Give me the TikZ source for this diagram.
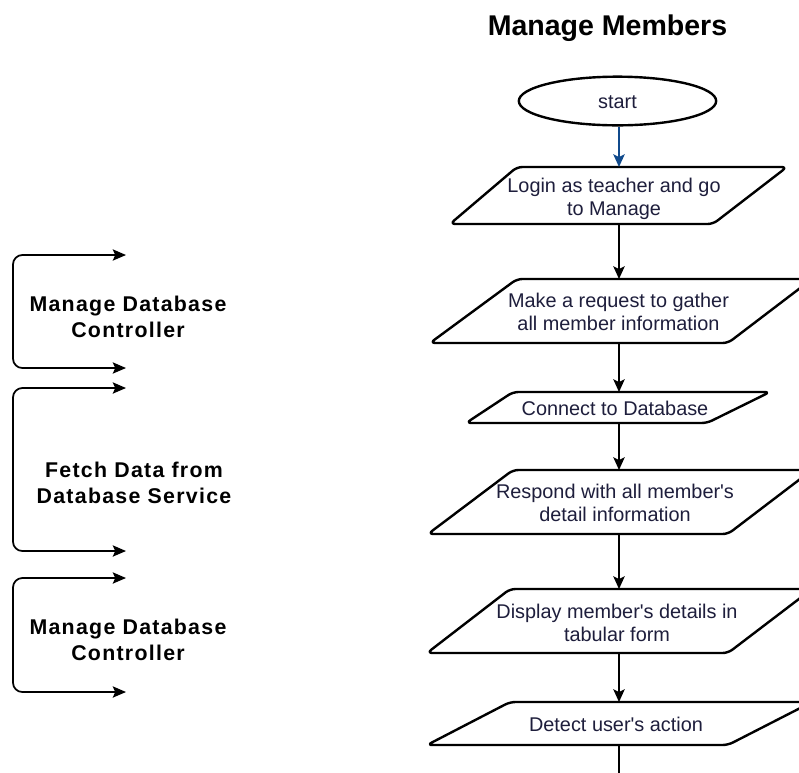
\documentclass[tikz,border=0pt]{standalone}
\usepackage{fontspec}
\setmainfont{Liberation Sans}
\usetikzlibrary{arrows.meta,shapes.geometric}

\definecolor{inkblue}{RGB}{16,74,140}
\definecolor{steptxt}{RGB}{30,30,60}

% Parallelogram step: name, top y, bottom y, top-left x, top-right x, bottom-right x, bottom-left x
\newcommand\parabox[7]{%
  \draw[stepshape] (#4,#2) -- (#5,#2) -- (#6,#3) -- (#7,#3) -- cycle;
  \coordinate (#1-n) at (619,#2);
  \coordinate (#1-s) at (619,#3);
}

\begin{document}
\begin{tikzpicture}[x=0.75pt,y=-0.75pt,
  stepshape/.style={draw=black, line width=1.8pt, rounded corners=4pt, fill=white, line join=round},
  arrowtip/.style={-{Stealth[length=9.5pt,width=8.5pt,inset=2pt]}},
  flow/.style={draw=black, line width=1.4pt, arrowtip},
  bracket/.style={draw=black, line width=1.3pt, rounded corners=7pt,
    {Stealth[length=10pt,width=8.5pt,inset=2pt]}-{Stealth[length=10pt,width=8.5pt,inset=2pt]}},
  steptext/.style={font=\fontsize{14.9}{17.25}\selectfont, text=steptxt, align=center, inner sep=0pt},
  sidelabel/.style={font=\fontsize{16}{19.5}\selectfont\bfseries\addfontfeature{LetterSpace=6},
    text=black, align=center, inner sep=0pt},
  titletext/.style={font=\fontsize{21.4}{25}\selectfont\bfseries, text=black, inner sep=0pt},
]
\useasboundingbox (0,0) rectangle (799,772);
\clip (0,0) rectangle (799,772);
\fill[white] (0,0) rectangle (799,772);

% Title
\node[titletext, anchor=base] (title) at (607.5,35) {Manage Members};

% Start terminal
\node[draw=black, line width=1.8pt, ellipse, minimum width=148pt, minimum height=36.5pt,
  steptext, text depth=0pt, text height=11pt] (start) at (617.5,101) {start};

% Process steps
\parabox{login}{167}{224}{517}{787}{713}{450}
\node[steptext] (login) at (614,199) {Login as teacher and go\\to Manage};

\parabox{request}{279}{343}{517}{812}{728}{430}
\node[steptext] (request) at (618.5,311.5) {Make a request to gather\\all member information};

\parabox{connect}{392}{423}{513}{770}{707}{466}
\node[steptext] (connect) at (615,408.5) {Connect to Database};

\parabox{respond}{470}{534}{513}{812}{728}{428}
\node[steptext] (respond) at (615,503) {Respond with all member\textquotesingle s\\detail information};

\parabox{display}{589}{653}{510}{812}{728}{427}
\node[steptext] (display) at (617,623) {Display member\textquotesingle s details in\\tabular form};

\parabox{detect}{702}{745}{510}{812}{728}{427}
\node[steptext] (detect) at (616,724.5) {Detect user\textquotesingle s action};

\coordinate (more) at (619,780);

% Connectors
\draw[flow, draw=inkblue] (start.south -| login-n) -- (login-n);
\draw[flow] (login-s) -- (request-n);
\draw[flow] (request-s) -- (connect-n);
\draw[flow] (connect-s) -- (respond-n);
\draw[flow] (respond-s) -- (display-n);
\draw[flow] (display-s) -- (detect-n);
\draw[draw=black, line width=1.4pt] (detect-s) -- (more);

% Layer brackets on the left
\coordinate (b1a) at (126,255);
\coordinate (b1b) at (126,368);
\coordinate (b2a) at (126,388);
\coordinate (b2b) at (126,551);
\coordinate (b3a) at (126,578);
\coordinate (b3b) at (126,692);
\draw[bracket] (b1a) -- (13,255) -- (13,368) -- (b1b);
\draw[bracket] (b2a) -- (13,388) -- (13,551) -- (b2b);
\draw[bracket] (b3a) -- (13,578) -- (13,692) -- (b3b);

\node[sidelabel] (ctrl1) at (128,316.5) {Manage Database\\Controller};
\node[sidelabel] (fetch) at (134,482.5) {Fetch Data from\\Database Service};
\node[sidelabel] (ctrl2) at (128,640) {Manage Database\\Controller};
\end{tikzpicture}
\end{document}
